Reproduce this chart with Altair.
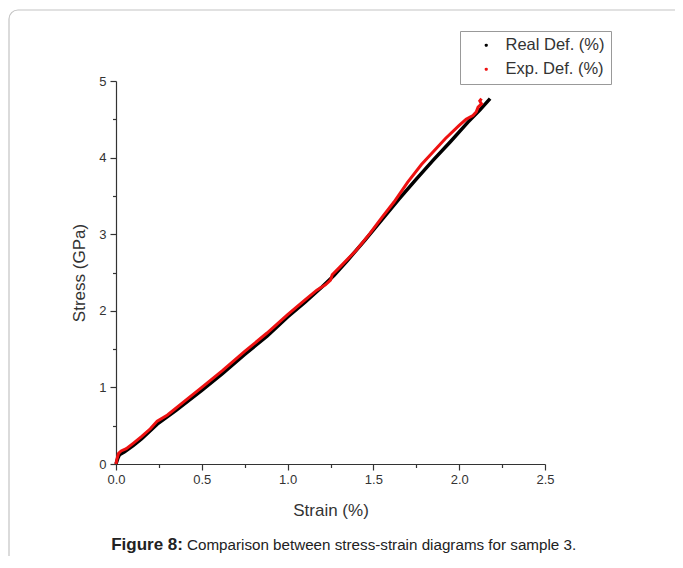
import altair as alt
import pandas as pd

# ---- data ----
series_names = ["Real Def. (%)", "Exp. Def. (%)"]
series_colors = ["#000000", "#ee1111"]

real_strain = [0.00, 0.01, 0.02, 0.05, 0.10, 0.15, 0.24, 0.35, 0.50, 0.62, 0.75, 0.88,
               1.00, 1.10, 1.20, 1.27, 1.35, 1.45, 1.55, 1.65, 1.75, 1.85, 1.95, 2.05, 2.12, 2.18]
real_stress = [0.00, 0.07, 0.12, 0.16, 0.24, 0.33, 0.52, 0.70, 0.96, 1.18, 1.43, 1.67,
               1.92, 2.11, 2.31, 2.46, 2.66, 2.92, 3.19, 3.46, 3.72, 3.97, 4.21, 4.46, 4.62, 4.77]

exp_strain = [0.00, 0.005, 0.015, 0.03, 0.06, 0.10, 0.15, 0.20, 0.24, 0.30, 0.40, 0.50, 0.62,
              0.75, 0.88, 1.00, 1.10, 1.17, 1.22, 1.25, 1.26, 1.30, 1.40, 1.48, 1.55, 1.62,
              1.70, 1.78, 1.85, 1.92, 2.00, 2.04, 2.08, 2.10, 2.11, 2.13, 2.12, 2.13]
exp_stress = [0.00, 0.06, 0.14, 0.17, 0.20, 0.27, 0.36, 0.46, 0.56, 0.64, 0.82, 1.00, 1.22,
              1.47, 1.71, 1.95, 2.14, 2.27, 2.34, 2.40, 2.47, 2.56, 2.79, 3.01, 3.22, 3.42,
              3.68, 3.91, 4.08, 4.25, 4.42, 4.50, 4.55, 4.60, 4.66, 4.70, 4.74, 4.77]

x_ticks = [0, 0.25, 0.5, 0.75, 1.0, 1.25, 1.5, 1.75, 2.0, 2.25, 2.5]
y_ticks = [0, 0.5, 1, 1.5, 2, 2.5, 3, 3.5, 4, 4.5, 5]

x_title = "Strain (%)"
y_title = "Stress (GPa)"
caption_bold = "Figure 8:"
caption_rest = "Comparison between stress-strain diagrams for sample 3."

FONT = "Liberation Sans"
INK = "#333333"

real_df = pd.DataFrame({"strain": real_strain, "stress": real_stress,
                        "series": series_names[0], "i": list(range(len(real_strain)))})
exp_df = pd.DataFrame({"strain": exp_strain, "stress": exp_stress,
                       "series": series_names[1], "i": list(range(len(exp_strain)))})
one = pd.DataFrame({"k": [0]})

x_enc = alt.X("strain:Q", scale=alt.Scale(domain=[0, 2.5], nice=False, zero=False),
              axis=alt.Axis(values=x_ticks, title=x_title, grid=False, labelFlush=False,
                            labelExpr="datum.value % 0.5 == 0 ? format(datum.value, '.1f') : ''",
                            tickSize={"condition": {"test": "datum.value % 0.5 != 0", "value": 3.5}, "value": 6},
                            labelPadding=3, titlePadding=16))
y_enc = alt.Y("stress:Q", scale=alt.Scale(domain=[0, 5], nice=False),
              axis=alt.Axis(values=y_ticks, title=y_title, grid=False, labelFlush=False,
                            labelExpr="datum.value % 1 == 0 ? format(datum.value, 'd') : ''",
                            tickSize={"condition": {"test": "datum.value % 1 != 0", "value": 3.5}, "value": 6},
                            labelPadding=4, titlePadding=10))
color_enc = alt.Color("series:N",
                      scale=alt.Scale(domain=series_names, range=series_colors),
                      legend=alt.Legend(title=None, orient="none", legendX=344, legendY=-50,
                                        symbolType="circle", symbolSize=3, symbolStrokeWidth=1.5,
                                        labelFont=FONT, labelFontSize=16.5, labelColor=INK,
                                        strokeColor="#999999", fillColor="white", padding=6,
                                        rowPadding=7, labelOffset=11, symbolOffset=12))

frame = alt.Chart(one).mark_rect(fillOpacity=0, stroke="#c4c4c4", strokeWidth=1.2,
                                 cornerRadius=9).encode(
    x=alt.value(-107), x2=alt.value(700), y=alt.value(-71), y2=alt.value(600))

real_line = alt.Chart(real_df).mark_line(strokeWidth=3.5).encode(
    x=x_enc, y=y_enc, color=color_enc, order=alt.Order("i:Q"))
exp_line = alt.Chart(exp_df).mark_line(strokeWidth=3).encode(
    x=x_enc, y=y_enc, color=color_enc, order=alt.Order("i:Q"))

cap1 = alt.Chart(one).mark_text(align="right", baseline="middle", font=FONT, fontSize=17,
                                fontWeight="bold", color="#222222").encode(
    x=alt.value(67), y=alt.value(464), text=alt.value(caption_bold))
cap2 = alt.Chart(one).mark_text(align="left", baseline="middle", font=FONT, fontSize=15.2,
                                color="#222222").encode(
    x=alt.value(71), y=alt.value(464), text=alt.value(caption_rest))

chart = alt.layer(frame, real_line, exp_line, cap1, cap2).properties(
    width=429, height=383,
    autosize=alt.AutoSizeParams(type="none"),
    padding={"left": 108, "top": 73, "right": 130, "bottom": 92},
).configure_view(stroke=None).configure_axis(
    domainColor=INK, tickColor=INK, labelColor=INK, titleColor=INK,
    labelFont=FONT, titleFont=FONT, labelFontSize=13, titleFontSize=17,
    titleFontWeight="normal", domainWidth=1.2, tickWidth=1.2)

chart.save("out.html", embed_options={"renderer": "svg", "actions": False})
